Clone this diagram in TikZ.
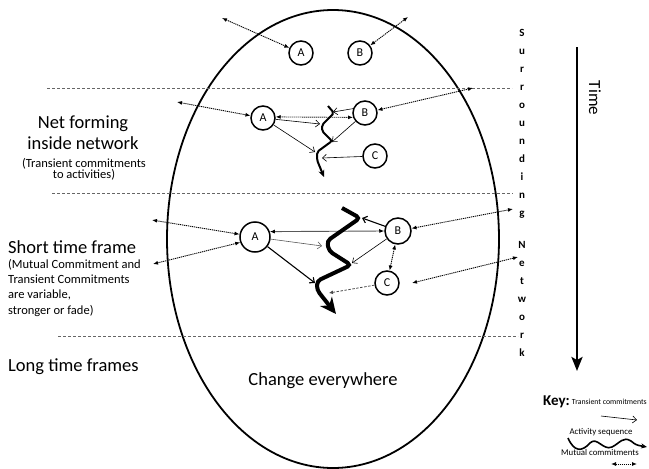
\documentclass[tikz,border=0pt]{standalone}
\usepackage{fontspec}
\setmainfont{Carlito}
\usetikzlibrary{arrows.meta,calc}
\begin{document}
\begin{tikzpicture}[x=1pt,y=-1pt,
  sepline/.style={gray!80!black, line width=0.8pt, dash pattern=on 3pt off 2pt},
  ent/.style={circle, draw, line width=1.5pt, minimum size=24pt, inner sep=0pt, font=\fontsize{12}{12}\selectfont},
  entbig/.style={ent, minimum size=30pt},
  entmid/.style={ent, minimum size=26pt},
  mutual/.style={line width=0.9pt, dash pattern=on 1.2pt off 0.8pt, {Latex[length=5pt,width=4pt]}-{Latex[length=5pt,width=4pt]}},
  trans/.style={line width=0.6pt, -{Straight Barb[length=4pt,width=7pt]}},
  transm/.style={line width=1.1pt, -{Straight Barb[length=4pt,width=7pt]}},
  act/.style={line width=2pt, rounded corners=2pt, -{Stealth[length=7pt,width=6pt]}},
  bigact/.style={line width=4pt, rounded corners=4pt, -{Stealth[length=16pt,width=15pt,inset=5pt]}},
  bigtxt/.style={font=\fontsize{18.5}{20}\selectfont, inner sep=0pt},
  smalltxt/.style={font=\fontsize{12.5}{13}\selectfont, inner sep=0pt},
  surr/.style={font=\bfseries\fontsize{11}{11}\selectfont, inner sep=0pt, anchor=base},
  keytxt/.style={font=\fontsize{8.8}{8.8}\selectfont, inner sep=0pt},
]
\useasboundingbox (0,0) rectangle (649,469);

% ellipse
\draw[line width=1.8pt] (333,239) ellipse [x radius=166pt, y radius=229pt];

% separators
\coordinate (l1a) at (47,88);  \coordinate (l1b) at (512,88);
\coordinate (l2a) at (52,193); \coordinate (l2b) at (513,193);
\coordinate (l3a) at (58,336); \coordinate (l3b) at (518,336);
\draw[sepline] (l1a) -- (l1b);
\draw[sepline] (l2a) -- (l2b);
\draw[sepline] (l3a) -- (l3b);

% left texts
\node[bigtxt, anchor=base] (nf1) at (83,128) {Net forming};
\node[bigtxt, anchor=base] (nf2) at (83,149) {inside network};
\node[smalltxt, anchor=base] (nf3) at (84,167) {(Transient commitments};
\node[smalltxt, anchor=base] (nf4) at (84,178) {to activities)};
\node[bigtxt, anchor=base west] (st1) at (8,253) {Short time frame};
\node[smalltxt, anchor=base west] (st2) at (8,268) {(Mutual Commitment and};
\node[smalltxt, anchor=base west] (st3) at (8,283) {Transient Commitments};
\node[smalltxt, anchor=base west] (st4) at (8,298) {are variable,};
\node[smalltxt, anchor=base west] (st5) at (8,314) {stronger or fade)};
\node[bigtxt, anchor=base west] (lt) at (8,371) {Long time frames};
\node[bigtxt, anchor=base] (ce) at (323,385) {Change everywhere};

% surrounding network letters
\foreach \l [count=\i] in {S,u,r,r,o,u,n,d,i,n,g}
  \node[surr] (sa\i) at (522,{32+18*(\i-1)+4}) {\l};
\foreach \l [count=\i] in {N,e,t,w,o,r,k}
  \node[surr] (sb\i) at (522,{244+18*(\i-1)+4}) {\l};

% time arrow
\coordinate (t1) at (577,47); \coordinate (t2) at (577,371);
\draw[line width=2.6pt, -{Stealth[length=14pt,width=11pt,inset=3pt]}] (t1) -- (t2);
\node[font=\fontsize{17}{17}\selectfont, rotate=-90, inner sep=0pt] (time) at (595,98) {Time};

% ---------- top section
\node[ent] (A1) at (301,53) {A};
\node[ent] (B1) at (360,53) {B};
\coordinate (pA1) at (222,18);
\coordinate (pB1) at (408,17);
\draw[mutual] (pA1) -- (A1);
\draw[mutual] (B1) -- (pB1);

% ---------- net forming section
\node[ent] (A2) at (263,118) {A};
\node[ent] (B2) at (365,113) {B};
\node[ent] (C2) at (375,156) {C};
\coordinate (pA2) at (177,102);
\coordinate (pB2) at (473,88);
\draw[mutual] (pA2) -- (A2);
\draw[mutual] (B2) -- (pB2);
\draw[mutual] (A2.5) -- (B2.200);

\coordinate (k1) at (328,106);
\coordinate (k2) at (334,113);
\coordinate (k3) at (322,125);
\coordinate (k4) at (322,131);
\coordinate (k5) at (332,141);
\coordinate (k6) at (317,152);
\coordinate (k7) at (317,160);
\coordinate (k8) at (324,177);
\draw[act] (k1) -- (k2) -- (k3) -- (k4) -- (k5) -- (k6) -- (k7) -- (k8);

\coordinate (n1) at (320,124);
\coordinate (n2) at (315,152);
\coordinate (n3) at (333,112);
\coordinate (n4) at (332,142);
\coordinate (n5) at (322,158);
\draw[trans] (A2) -- (n1);
\draw[trans] (A2) -- (n2);
\draw[trans] (B2.160) -- (n3);
\draw[trans] (B2) -- (n4);
\draw[trans] (C2) -- (n5);

% ---------- short time frame section
\node[entbig] (A3) at (255,237) {A};
\node[entmid] (B3) at (398,231) {B};
\node[ent] (C3) at (387,283) {C};
\coordinate (pA3a) at (152,220);
\coordinate (pA3b) at (153,264);
\coordinate (pB3) at (513,209);
\coordinate (pC3a) at (412,283);
\coordinate (pC3b) at (518,257);
\draw[mutual] (pA3a) -- (A3.170);
\draw[mutual] (pA3b) -- (A3.200);
\draw[mutual] (A3.20) -- (B3.180);
\draw[mutual] (B3) -- (pB3);
\draw[mutual] (B3) -- (C3);
\draw[mutual] (pC3a) -- (pC3b);

\coordinate (m1) at (342,208);
\coordinate (m2) at (360,218);
\coordinate (m3) at (327,241);
\coordinate (m4) at (329,251);
\coordinate (m5) at (351,265);
\coordinate (m6) at (317,281);
\coordinate (m7) at (317,290);
\coordinate (m8) at (336,314);
\draw[bigact] (m1) -- (m2) -- (m3) -- (m4) -- (m5) -- (m6) -- (m7) -- (m8);

\coordinate (s1) at (322,246);
\coordinate (s2) at (315,283);
\coordinate (s3) at (362,218);
\coordinate (s4) at (352,263);
\coordinate (s5) at (329,293);
\draw[trans, gray!70!black] (A3) -- (s1);
\draw[transm] (A3) -- (s2);
\draw[transm] (B3.160) -- (s3);
\draw[trans] (B3) -- (s4);
\draw[line width=0.8pt, gray!60!black, dash pattern=on 2.5pt off 1.5pt, -{Latex[length=4pt,width=4pt]}] (C3) -- (s5);

% ---------- key
\node[font=\bfseries\fontsize{15}{15}\selectfont, inner sep=0pt, anchor=base west] (key) at (543,405) {Key:};
\node[font=\fontsize{7.8}{8}\selectfont, inner sep=0pt, anchor=base east] (ktc) at (647,404) {Transient commitments};
\coordinate (kt1) at (601,416); \coordinate (kt2) at (637,420);
\draw[trans] (kt1) -- (kt2);
\node[keytxt, anchor=base] (kas) at (601,434) {Activity sequence};
\coordinate (ka1) at (568,438); \coordinate (ka2) at (647,447);
\draw[line width=1.6pt, -{Stealth[length=6pt,width=5pt]}] (ka1) .. controls (574,452) and (582,452) .. (590,443) .. controls (597,436) and (603,451) .. (612,447) .. controls (620,443) and (623,436) .. (631,441) .. controls (636,445) .. (ka2);
\node[keytxt, anchor=base] (kmc) at (600,455) {Mutual commitments};
\coordinate (km1) at (611,464); \coordinate (km2) at (637,464);
\draw[mutual] (km1) -- (km2);
\end{tikzpicture}
\end{document}
